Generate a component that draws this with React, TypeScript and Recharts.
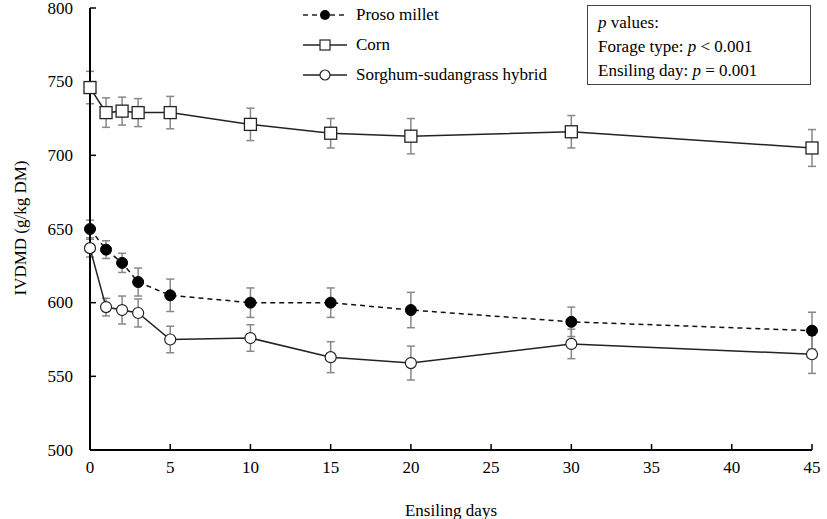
import {
  ComposedChart,
  Line,
  XAxis,
  YAxis,
  ErrorBar,
} from 'recharts';

const FONT = '"Liberation Serif", "Times New Roman", serif';

const days = [0, 1, 2, 3, 5, 10, 15, 20, 30, 45];
const proso = [650, 636, 627, 614, 605, 600, 600, 595, 587, 581];
const prosoErr = [6, 6, 6.5, 9.5, 11, 10, 10, 12, 10, 12.5];
const corn = [746, 729, 730, 729, 729, 721, 715, 713, 716, 705];
const cornErr = [11, 10, 9.5, 9.5, 11, 11, 10, 12, 11, 12.5];
const sorghum = [637, 597, 595, 593, 575, 576, 563, 559, 572, 565];
const sorghumErr = [6, 6, 9.5, 9.5, 9, 9, 10.5, 11.5, 10, 13];

const xTicks = [0, 5, 10, 15, 20, 25, 30, 35, 40, 45];
const yTicks = [500, 550, 600, 650, 700, 750, 800];

const data = days.map((d, i) => ({
  day: d,
  proso: proso[i],
  prosoErr: prosoErr[i],
  corn: corn[i],
  cornErr: cornErr[i],
  sorghum: sorghum[i],
  sorghumErr: sorghumErr[i],
}));

const SquareDot = (props: any) => {
  const { cx, cy } = props;
  if (cx == null || cy == null) return null;
  return (
    <rect x={cx - 6} y={cy - 6} width={12} height={12} fill="#fff" stroke="#222" strokeWidth={1.3} />
  );
};

// tick labels drawn as plain svg text so the serif font sticks
const XTick = (props: any) => {
  const { x, y, payload } = props;
  return (
    <text x={x} y={y + 9} textAnchor="middle" fill="#000" fontSize={17} fontFamily={FONT}>
      {payload.value}
    </text>
  );
};

const YTick = (props: any) => {
  const { x, y, payload } = props;
  return (
    <text x={x} y={y} textAnchor="end" dominantBaseline="central" fill="#000" fontSize={17} fontFamily={FONT}>
      {payload.value}
    </text>
  );
};

const legendRows = [
  { name: 'Proso millet', kind: 'proso' },
  { name: 'Corn', kind: 'corn' },
  { name: 'Sorghum-sudangrass hybrid', kind: 'sorghum' },
];

function LegendBox() {
  return (
    <div
      style={{
        position: 'absolute',
        left: 302,
        top: 0,
        fontFamily: FONT,
        fontSize: 17,
        color: '#000',
      }}
    >
      {legendRows.map((r) => (
        <div key={r.name} style={{ display: 'flex', alignItems: 'center', height: 30 }}>
          <svg width={52} height={14} style={{ marginRight: 2 }}>
            <line
              x1={1}
              x2={45}
              y1={7}
              y2={7}
              stroke="#222"
              strokeWidth={1.5}
              strokeDasharray={r.kind === 'proso' ? '5 4' : undefined}
            />
            {r.kind === 'proso' && <circle cx={23} cy={7} r={5} fill="#000" />}
            {r.kind === 'corn' && (
              <rect x={18} y={2} width={10} height={10} fill="#fff" stroke="#222" strokeWidth={1.2} />
            )}
            {r.kind === 'sorghum' && (
              <circle cx={23} cy={7} r={5} fill="#fff" stroke="#222" strokeWidth={1.2} />
            )}
          </svg>
          <span>{r.name}</span>
        </div>
      ))}
    </div>
  );
}

export default function App() {
  return (
    <div
      style={{
        position: 'absolute',
        left: 0,
        top: 0,
        width: 827,
        height: 519,
        background: '#fff',
        fontFamily: FONT,
      }}
    >
      <ComposedChart
        width={827}
        height={519}
        data={data}
        margin={{ top: 8, right: 15, bottom: 0, left: 0 }}
        style={{ fontFamily: FONT }}
      >
        <XAxis
          dataKey="day"
          type="number"
          domain={[0, 45]}
          ticks={xTicks}
          interval={0}
          height={69}
          axisLine={{ stroke: '#000', strokeWidth: 2 }}
          tickLine={{ stroke: '#000', strokeWidth: 1.5 }}
          tickSize={-6}
          tickMargin={20}
          tick={<XTick />}
          label={{
            content: () => (
              <text
                x={451}
                y={510}
                textAnchor="middle"
                dominantBaseline="central"
                fill="#000"
                fontSize={17}
                fontFamily={FONT}
              >
                Ensiling days
              </text>
            ),
          }}
        />
        <YAxis
          type="number"
          domain={[500, 800]}
          ticks={yTicks}
          interval={0}
          width={90}
          axisLine={{ stroke: '#000', strokeWidth: 2 }}
          tickLine={{ stroke: '#000', strokeWidth: 1.5 }}
          tickSize={-6}
          tickMargin={23}
          tick={<YTick />}
          label={{
            content: () => (
              <text
                x={20}
                y={228}
                transform="rotate(-90 20 228)"
                textAnchor="middle"
                dominantBaseline="central"
                fill="#000"
                fontSize={17}
                fontFamily={FONT}
              >
                IVDMD (g/kg DM)
              </text>
            ),
          }}
        />
        <Line
          dataKey="corn"
          name="Corn"
          stroke="#222"
          strokeWidth={1.5}
          dot={<SquareDot />}
          isAnimationActive={false}
        >
          <ErrorBar dataKey="cornErr" width={4} stroke="#888" strokeWidth={1.5} direction="y" isAnimationActive={false} />
        </Line>
        <Line
          dataKey="proso"
          name="Proso millet"
          stroke="#111"
          strokeWidth={1.5}
          strokeDasharray="5 4"
          dot={{ r: 5.5, fill: '#000', stroke: '#000', strokeWidth: 1, strokeDasharray: '' }}
          isAnimationActive={false}
        >
          <ErrorBar dataKey="prosoErr" width={4} stroke="#888" strokeWidth={1.5} direction="y" isAnimationActive={false} />
        </Line>
        <Line
          dataKey="sorghum"
          name="Sorghum-sudangrass hybrid"
          stroke="#222"
          strokeWidth={1.5}
          dot={{ r: 5.5, fill: '#fff', stroke: '#222', strokeWidth: 1.2 }}
          isAnimationActive={false}
        >
          <ErrorBar dataKey="sorghumErr" width={4} stroke="#888" strokeWidth={1.5} direction="y" isAnimationActive={false} />
        </Line>
      </ComposedChart>
      <LegendBox />
      <div
        style={{
          position: 'absolute',
          left: 587,
          top: 5,
          width: 224,
          height: 80,
          boxSizing: 'border-box',
          border: '1px solid #444',
          padding: '5px 0 0 10px',
          fontFamily: FONT,
          fontSize: 17,
          lineHeight: '24px',
          color: '#000',
        }}
      >
        <div>
          <i>p</i> values:
        </div>
        <div>
          Forage type: <i>p</i> &lt; 0.001
        </div>
        <div>
          Ensiling day: <i>p</i> = 0.001
        </div>
      </div>
    </div>
  );
}
